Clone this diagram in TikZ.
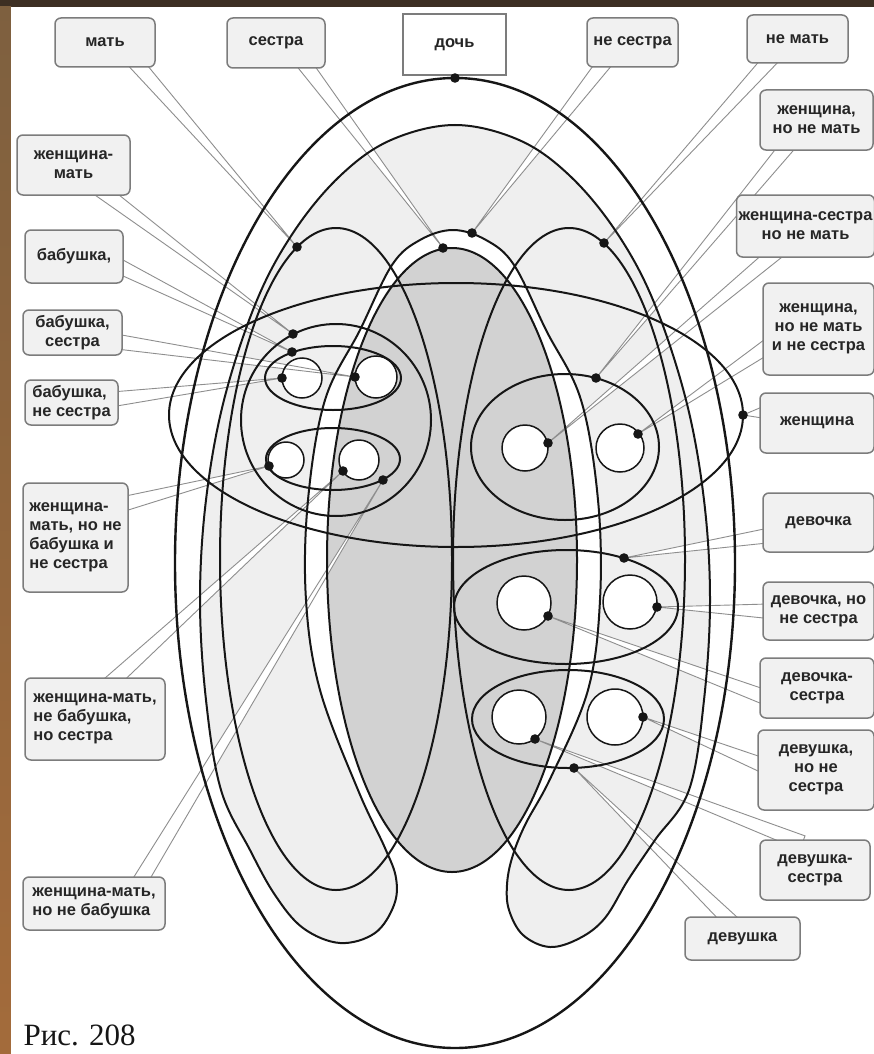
\documentclass[tikz,border=0pt]{standalone}
\usepackage{fontspec}
\setmainfont{Liberation Sans}
\newfontfamily\figfont{Liberation Serif}
\usetikzlibrary{calc}
\definecolor{Ink}{HTML}{161616}
\definecolor{Text}{HTML}{262626}
\definecolor{Frame}{HTML}{7C7C7C}
\definecolor{Tint}{HTML}{F1F1F1}
\definecolor{Lead}{HTML}{8E8E8E}
\definecolor{SisterFill}{HTML}{D2D2D2}
\definecolor{OtherFill}{HTML}{EFEFEF}
\definecolor{Umber}{HTML}{3D2F23}
\definecolor{GoldTop}{HTML}{7E603F}
\definecolor{GoldMid}{HTML}{D8B46A}
\definecolor{GoldLow}{HTML}{A36B3B}
\pgfdeclarelayer{fills}
\pgfdeclarelayer{wedges}
\pgfsetlayers{fills,wedges,main}
\tikzset{
  lbox/.style={draw=Frame,fill=Tint,line width=1.5pt,rounded corners=6pt,align=center,inner sep=2pt,text=Text,font=\fontsize{16.5}{19}\selectfont\bfseries},
  rim/.style={draw=Ink,line width=2.4pt},
  curve/.style={draw=Ink,line width=2pt},
  ring/.style={draw=Ink,line width=1.5pt},
  wedge/.style={draw=Lead,fill=white,line width=.9pt},
  bead/.style={fill=Ink}
}
\newcommand\shoe{plot[smooth cycle,tension=.6] coordinates {
  (455,125) (519,140) (569,175) (615,230) (653,300) (686,400) (704,500) (710,600) (704,700) (689,790)
  (655,840) (628,880) (605,918) (580,938) (550,947) (523,935) (509,910) (507,885) (512,858) (525,825) (551,777) (588,690)
  (600,600) (598,500) (581,400) (546,330) (514,265) (486,240) (453,230) (420,240) (392,265) (360,330) (325,400) (308,500) (306,600) (320,690)
  (358,790) (385,848) (396,878) (394,905) (375,933) (340,943) (303,928) (275,895) (250,850) (221,790)
  (206,700) (200,600) (206,500) (224,400) (257,300) (295,230) (341,175) (391,140)}}
\newcommand\leadwedge[2]{%
  \path (#1) coordinate (wb) ($(wb)!-10pt!(#2)$) coordinate (wc);
  \filldraw[wedge] ($(wc)!7.5pt!90:(#2)$) -- (#2) -- ($(wc)!7.5pt!-90:(#2)$) -- cycle;}

\begin{document}
\begin{tikzpicture}[x=1pt,y=-1pt]
  \useasboundingbox (0,0) rectangle (874,1054);
  \begin{pgfonlayer}{fills}
    \fill[Umber] (0,0) rectangle (874,1054);
    \shade[top color=GoldTop,middle color=GoldMid,bottom color=GoldLow] (0,7) rectangle (11,1054);
    \fill[white] (11,7) rectangle (874,1054);
    \fill[OtherFill] \shoe;
    \fill[SisterFill] (452,560) ellipse[x radius=125pt,y radius=312pt];
    \foreach \cx/\cy/\r in {302/378/20,376/377/21,286/460/18,359/460/20,525/448/23,620/448/24,524/603/27,630/602/27,519/717/27,615/717/28}
      \fill[white] (\cx,\cy) circle[radius=\r pt];
  \end{pgfonlayer}

  \node[lbox,minimum width=100pt,minimum height=49pt] (mat) at (105,42.5) {мать};
  \node[lbox,minimum width=98pt,minimum height=50pt] (sis) at (276,43) {сестра};
  \node[lbox,rounded corners=0pt,fill=white,minimum width=103pt,minimum height=61pt] (doch) at (454.5,44.5) {дочь};
  \node[lbox,minimum width=91pt,minimum height=49pt] (nsis) at (632.5,42.5) {не сестра};
  \node[lbox,minimum width=101pt,minimum height=48pt] (nmat) at (797.5,39) {не мать};
  \node[lbox,minimum width=113pt,minimum height=60pt] (wnm) at (816.5,120) {женщина,\\но не мать};
  \node[lbox,minimum width=137pt,minimum height=62pt] (wsnm) at (805.5,226) {женщина-сестра\\но не мать};
  \node[lbox,minimum width=111pt,minimum height=92pt] (wnmns) at (818.5,329) {женщина,\\но не мать\\и не сестра};
  \node[lbox,minimum width=114pt,minimum height=60pt] (wom) at (817,423) {женщина};
  \node[lbox,minimum width=111pt,minimum height=59pt] (girl) at (818.5,522.5) {девочка};
  \node[lbox,minimum width=111pt,minimum height=58pt] (girlns) at (818.5,611) {девочка, но\\не сестра};
  \node[lbox,minimum width=114pt,minimum height=60pt] (girls) at (817,688) {девочка-\\сестра};
  \node[lbox,minimum width=116pt,minimum height=80pt] (maidns) at (816,770) {девушка,\\но не\\сестра};
  \node[lbox,minimum width=110pt,minimum height=60pt] (maids) at (815,870) {девушка-\\сестра};
  \node[lbox,minimum width=115pt,minimum height=43pt] (maid) at (742.5,938.5) {девушка};
  \node[lbox,minimum width=113pt,minimum height=60pt] (wmat) at (73.5,165) {женщина-\\мать};
  \node[lbox,minimum width=98pt,minimum height=53pt] (gran) at (74,256.5) {бабушка,};
  \node[lbox,minimum width=99pt,minimum height=45pt] (grans) at (72.5,332.5) {бабушка,\\сестра};
  \node[lbox,align=left,minimum width=93pt,minimum height=45pt] (granns) at (71.5,402.5) {бабушка,\\не сестра};
  \node[lbox,align=left,minimum width=105pt,minimum height=109pt] (wmngns) at (75.5,537.5) {женщина-\\мать, но не\\бабушка и\\не сестра};
  \node[lbox,align=left,minimum width=140pt,minimum height=82pt] (wmngs) at (95,719) {женщина-мать,\\не бабушка,\\но сестра};
  \node[lbox,align=left,minimum width=142pt,minimum height=53pt] (wmng) at (94,903.5) {женщина-мать,\\но не бабушка};
  \node[anchor=base west,font=\figfont\fontsize{31}{31}\selectfont,text=Ink] (fig) at (20,1045) {Рис. 208};

  \coordinate (dDoch) at (455,78);
  \coordinate (dMat) at (297,247);
  \coordinate (dSis) at (443,248);
  \coordinate (dNotSis) at (472,233);
  \coordinate (dNotMat) at (604,243);
  \coordinate (dWoman) at (743,415);
  \coordinate (dWomNM) at (596,378);
  \coordinate (dWomSisNM) at (548,443);
  \coordinate (dWomNMNS) at (638,434);
  \coordinate (dGirl) at (624,558);
  \coordinate (dGirlNS) at (657,607);
  \coordinate (dGirlSis) at (548,616);
  \coordinate (dMaidNS) at (643,717);
  \coordinate (dMaidSis) at (535,739);
  \coordinate (dMaid) at (574,768);
  \coordinate (dWomMat) at (293,334);
  \coordinate (dGran) at (292,352);
  \coordinate (dGranSis) at (355,377);
  \coordinate (dGranNS) at (282,378);
  \coordinate (dWMnGnS) at (269,466);
  \coordinate (dWMnGS) at (343,471);
  \coordinate (dWMnG) at (383,480);

  \begin{pgfonlayer}{wedges}
    \leadwedge{[xshift=35pt]mat.south}{dMat}
    \leadwedge{[xshift=32pt]sis.south}{dSis}
    \leadwedge{[xshift=-32pt]nsis.south}{dNotSis}
    \leadwedge{[xshift=-31pt]nmat.south}{dNotMat}
    \leadwedge{[xshift=-33pt]wnm.south}{dWomNM}
    \leadwedge{[xshift=-36pt]wsnm.south}{dWomSisNM}
    \leadwedge{[yshift=-21pt]wnmns.west}{dWomNMNS}
    \leadwedge{[yshift=10pt]wom.west}{dWoman}
    \leadwedge{[yshift=-14pt]girl.west}{dGirl}
    \leadwedge{girlns.west}{dGirlNS}
    \leadwedge{[yshift=-7pt]girls.west}{dGirlSis}
    \leadwedge{[yshift=7pt]maidns.west}{dMaidNS}
    \leadwedge{[xshift=-22pt]maids.north}{dMaidSis}
    \leadwedge{[xshift=-17pt]maid.north}{dMaid}
    \leadwedge{[xshift=35pt]wmat.south}{dWomMat}
    \leadwedge{[yshift=-12pt]gran.east}{dGran}
    \leadwedge{[yshift=-10pt]grans.east}{dGranSis}
    \leadwedge{[yshift=4pt]granns.east}{dGranNS}
    \leadwedge{[yshift=35pt]wmngns.east}{dWMnGnS}
    \leadwedge{[xshift=22pt]wmngs.north}{dWMnGS}
    \leadwedge{[xshift=49pt]wmng.north}{dWMnG}
  \end{pgfonlayer}

  \draw[rim] (455,563) ellipse[x radius=280pt,y radius=485pt];
  \draw[curve] \shoe;
  \draw[curve] (452,560) ellipse[x radius=125pt,y radius=312pt];
  \draw[curve] (336,559) ellipse[x radius=116pt,y radius=331pt];
  \draw[curve] (569,559) ellipse[x radius=116pt,y radius=331pt];
  \draw[curve] (456,415) ellipse[x radius=287pt,y radius=132pt];
  \draw[curve] (336,420) ellipse[x radius=95pt,y radius=96pt];
  \draw[curve] (333,378) ellipse[x radius=68pt,y radius=32pt];
  \draw[curve] (333,459) ellipse[x radius=67pt,y radius=31pt];
  \draw[curve] (565,447) ellipse[x radius=94pt,y radius=73pt];
  \draw[curve] (566,607) ellipse[x radius=112pt,y radius=57pt];
  \draw[curve] (568,719) ellipse[x radius=96pt,y radius=49pt];
  \foreach \cx/\cy/\r in {302/378/20,376/377/21,286/460/18,359/460/20,525/448/23,620/448/24,524/603/27,630/602/27,519/717/27,615/717/28}
    \draw[ring] (\cx,\cy) circle[radius=\r pt];

  \foreach \d in {dDoch,dMat,dSis,dNotSis,dNotMat,dWoman,dWomNM,dWomSisNM,dWomNMNS,dGirl,dGirlNS,dGirlSis,dMaidNS,dMaidSis,dMaid,dWomMat,dGran,dGranSis,dGranNS,dWMnGnS,dWMnGS,dWMnG}
    \fill[bead] (\d) circle[radius=4.8pt];
\end{tikzpicture}
\end{document}
